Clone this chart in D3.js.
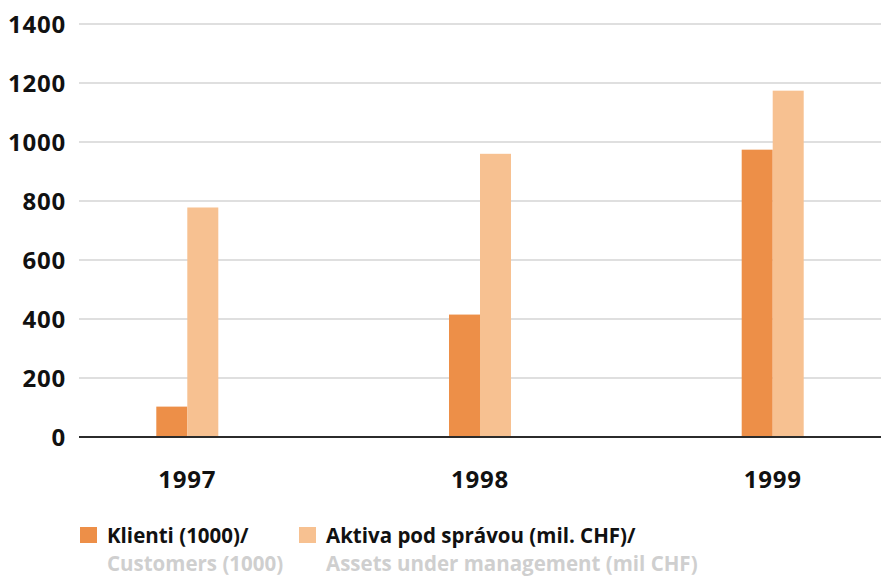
<!DOCTYPE html>
<html>
<head>
<meta charset="utf-8">
<script src="https://cdn.jsdelivr.net/npm/d3@7"></script>
<style>
  body { margin: 0; background: #fff; }
  text { font-family: "Open Sans", "DejaVu Sans", sans-serif; font-weight: 700; }
</style>
</head>
<body>
<div id="chart"></div>
<script>
// data
var years = ["1997", "1998", "1999"];
var klienti = [103, 415, 974];
var aktiva = [778, 960, 1174];
var yTicks = [0, 200, 400, 600, 800, 1000, 1200, 1400];
var seriesNames = ["klienti", "aktiva"];
var legendMain = ["Klienti (1000)/", "Aktiva pod správou (mil. CHF)/"];
var legendSub = ["Customers (1000)", "Assets under management (mil CHF)"];

var colors = {klienti: "#ed8f48", aktiva: "#f7c191"};

var width = 881, height = 576;
var plotLeft = 79, plotRight = 881, plotTop = 24, plotBottom = 437;

var svg = d3.select("#chart").append("svg")
	.attr("width", width)
	.attr("height", height);

var y = d3.scaleLinear().domain([0, 1400]).range([plotBottom, plotTop]);

var x = d3.scalePoint()
	.domain(years)
	.range([plotLeft, plotRight])
	.padding(0.37);

var inner = d3.scaleBand()
	.domain(seriesNames)
	.range([-31, 31]);

// gridlines
svg.append("g")
	.selectAll("line")
	.data(yTicks.filter(function(d){ return d > 0; }))
	.enter()
		.append("line")
		.attr("x1", plotLeft)
		.attr("x2", plotRight)
		.attr("y1", function(d){ return y(d); })
		.attr("y2", function(d){ return y(d); })
		.attr("stroke", "#d4d4d4")
		.attr("stroke-width", 1.6);

// y labels
svg.append("g")
	.selectAll("text")
	.data(yTicks)
	.enter()
		.append("text")
		.attr("x", 66)
		.attr("y", function(d){ return y(d); })
		.attr("dy", "0.36em")
		.attr("text-anchor", "end")
		.attr("font-size", 24)
		.attr("letter-spacing", 0.8)
		.attr("fill", "#111")
		.text(function(d){ return d; });

// bars
var rows = years.map(function(yr, i){
	return {year: yr, klienti: klienti[i], aktiva: aktiva[i]};
});

var groups = svg.append("g")
	.selectAll("g")
	.data(rows)
	.enter()
		.append("g")
		.attr("transform", function(d){ return "translate(" + x(d.year) + ",0)"; });

groups.selectAll("rect")
	.data(function(d){ return seriesNames.map(function(s){ return {key: s, value: d[s]}; }); })
	.enter()
		.append("rect")
		.attr("x", function(d){ return inner(d.key); })
		.attr("width", inner.bandwidth())
		.attr("y", function(d){ return y(d.value); })
		.attr("height", function(d){ return y(0) - y(d.value); })
		.attr("fill", function(d){ return colors[d.key]; });

// baseline
svg.append("line")
	.attr("x1", plotLeft)
	.attr("x2", plotRight)
	.attr("y1", y(0))
	.attr("y2", y(0))
	.attr("stroke", "#2b2b2b")
	.attr("stroke-width", 2);

// year labels
svg.append("g")
	.selectAll("text")
	.data(years)
	.enter()
		.append("text")
		.attr("x", function(d){ return x(d); })
		.attr("y", 488)
		.attr("text-anchor", "middle")
		.attr("font-size", 24)
		.attr("letter-spacing", 0.8)
		.attr("fill", "#111")
		.text(function(d){ return d; });

// legend
var legendX = [80, 299];
var legend = svg.append("g")
	.selectAll("g")
	.data(seriesNames)
	.enter()
		.append("g")
		.attr("transform", function(d, i){ return "translate(" + legendX[i] + ",0)"; });

legend.append("rect")
	.attr("x", 0)
	.attr("y", 527)
	.attr("width", 17)
	.attr("height", 16)
	.attr("fill", function(d){ return colors[d]; });

legend.append("text")
	.attr("x", 27)
	.attr("y", 543)
	.attr("font-size", 20.5)
	.attr("fill", "#111")
	.text(function(d, i){ return legendMain[i]; });

legend.append("text")
	.attr("x", 27)
	.attr("y", 571)
	.attr("font-size", 20.5)
	.attr("fill", "#cfcfcf")
	.text(function(d, i){ return legendSub[i]; });
</script>
</body>
</html>
